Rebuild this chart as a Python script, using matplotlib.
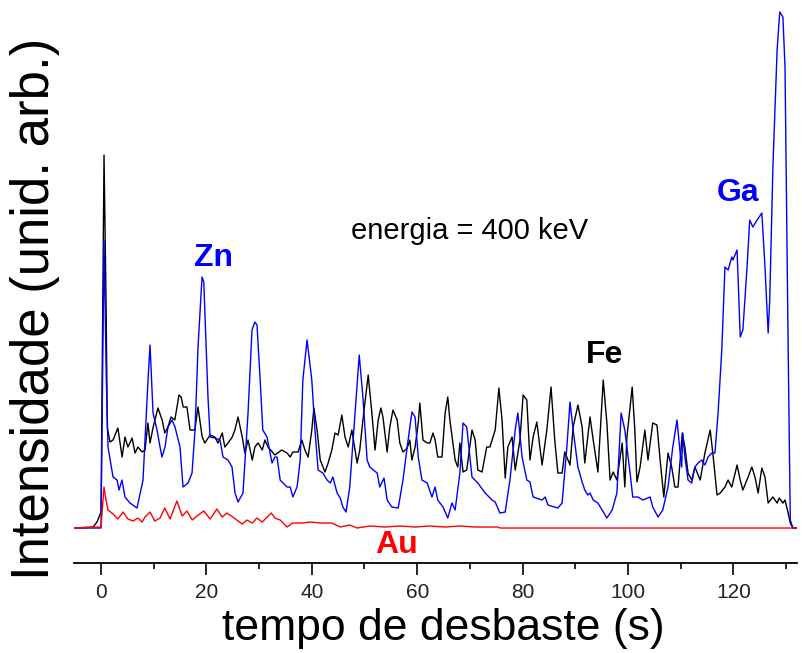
import matplotlib
matplotlib.use("Agg")
import matplotlib.pyplot as plt
from matplotlib.ticker import MultipleLocator
import numpy as np

plt.rcParams['font.family'] = ['Liberation Sans', 'DejaVu Sans']

# Ga/Zn signal (blue)
t_ga = [-5, 0, 0.2, 0.57, 1.0, 1.33, 2.28, 3.04, 3.42, 3.98, 4.55, 5.5, 6.83, 7.97, 8.92, 9.3,
        9.87, 10.63, 11.2, 11.57, 12.14, 12.71, 13.47, 14.04, 14.99, 15.56, 16.51, 17.27, 17.84,
        18.41, 19.17, 19.5, 20.3, 20.7, 21.63, 22.58, 23.15, 24.1, 24.86, 25.43, 26.0, 26.94,
        27.9, 28.65, 29.2, 29.6, 30.2, 30.7, 31.5, 32.45, 33.0, 33.4, 34.0, 35.3, 35.9, 36.4,
        37.2, 37.8, 38.3, 39.1, 40.0, 40.6, 41.2, 42.1, 42.9, 43.5, 44.0, 44.8, 45.4, 45.9,
        46.5, 47.2, 48.2, 49.0, 49.7, 50.5, 51.0, 52.4, 52.9, 53.7, 54.3, 55.2, 56.4, 57.3,
        58.1, 59.0, 59.6, 60.2, 60.9, 61.9, 62.8, 63.4, 63.9, 64.9, 65.8, 66.6, 67.2, 68.1,
        68.7, 69.4, 70.4, 71.5, 72.9, 74.2, 74.8, 75.7, 76.7, 77.6, 78.6, 79.1, 79.9, 80.8,
        81.4, 82.0, 83.7, 84.3, 84.8, 86.7, 87.5, 88.4, 89.0, 89.6, 90.5, 91.3, 91.8, 92.4,
        92.8, 93.4, 94.3, 95.1, 96.0, 97.0, 97.9, 98.7, 99.4, 100.4, 100.9, 101.9, 102.8,
        104.2, 104.7, 105.7, 106.6, 107.6, 108.5, 109.3, 109.9, 110.2, 110.4, 110.8, 111.4,
        112.1, 112.7, 113.3, 114.0, 114.6, 115.2, 115.9, 116.5, 117.1, 117.8, 118.4, 119.0,
        119.7, 119.9, 120.7, 121.3, 121.8, 122.6, 123.1, 123.7, 124.5, 125.4, 126.0, 126.6,
        126.9, 127.5, 128.3, 128.8, 129.4, 129.8, 130.4, 130.8, 131.3, 132.1]
i_ga = [0, 0, 100, 288, 150, 81, 51, 48, 38, 48, 31, 25, 20, 48, 148, 183,
        115, 98, 81, 71, 81, 101, 108, 101, 81, 41, 45, 55, 98,
        181, 251, 246, 131, 91, 90, 88, 71, 68, 61, 35, 26, 35,
        115, 198, 206, 203, 148, 98, 91, 65, 71, 71, 48, 41, 41, 31,
        41, 68, 148, 188, 148, 98, 58, 55, 48, 45, 51, 35, 30, 21,
        16, 41, 115, 173, 131, 68, 61, 55, 41, 50, 28, 21, 20, 48,
        81, 116, 111, 71, 48, 45, 31, 41, 28, 21, 10, 25, 18, 55,
        105, 101, 51, 45, 35, 28, 26, 15, 16, 48, 98, 115, 71, 48,
        46, 31, 28, 31, 23, 20, 25, 81, 126, 98, 61, 46, 38, 33,
        35, 28, 25, 18, 10, 18, 35, 115, 98, 55, 31, 31, 28,
        31, 21, 11, 18, 41, 81, 108, 75, 61, 95, 71, 48,
        45, 61, 65, 68, 63, 71, 75, 75, 115, 178, 261, 258,
        271, 268, 278, 191, 198, 261, 308, 301, 308, 315, 261, 195,
        228, 361, 478, 516, 511, 461, 178, 8, 0, 0]

# Fe signal (black)
t_fe = [-5, -1.5, -0.76, 0, 0.57, 0.95, 1.2, 1.71, 2.28, 3.2, 4.0, 4.55, 5.1, 5.9, 6.45, 7.0,
        7.8, 8.35, 8.9, 9.3, 9.9, 10.8, 11.6, 12.1, 12.7, 13.3, 14.0, 14.8, 15.2, 15.6, 16.3,
        16.9, 17.8, 18.4, 19.2, 19.7, 20.7, 21.6, 22.2, 23.0, 23.5, 24.1, 24.9, 25.4, 26.0,
        26.8, 27.3, 27.9, 28.7, 29.2, 29.8, 30.6, 31.1, 31.7, 33.0, 34.3, 35.3, 35.9, 36.4,
        37.4, 38.1, 38.7, 39.3, 40.0, 40.4, 41.0, 41.6, 42.5, 43.1, 43.8, 44.4, 45.0, 45.7,
        46.3, 46.9, 47.6, 48.2, 48.6, 49.1, 49.7, 50.7, 51.4, 52.0, 52.6, 53.1, 53.5, 54.3,
        54.8, 55.4, 56.2, 56.7, 57.3, 58.1, 58.6, 59.0, 59.6, 60.2, 60.5, 61.1, 61.9, 62.4,
        63.0, 63.4, 63.9, 64.7, 65.3, 65.8, 66.2, 67.2, 67.7, 68.1, 68.7, 69.4, 70.4, 71.0,
        71.5, 72.3, 73.2, 73.8, 74.8, 75.5, 76.1, 76.7, 77.2, 78.0, 78.6, 79.5, 80.1, 80.8,
        81.4, 82.0, 82.7, 83.7, 84.6, 85.4, 86.1, 86.7, 87.5, 88.0, 89.0, 89.6, 90.5, 91.3,
        91.8, 92.8, 93.4, 94.3, 95.3, 96.0, 96.6, 97.2, 97.9, 98.9, 99.4, 99.8, 100.8, 101.3,
        101.7, 102.3, 103.2, 103.8, 104.7, 105.5, 106.1, 106.8, 107.6, 108.3, 108.9, 109.5,
        110.3, 110.8, 111.4, 112.1, 112.7, 113.7, 114.6, 115.6, 116.1, 116.9, 117.5, 118.4,
        119.0, 119.7, 120.7, 121.3, 121.8, 122.8, 123.5, 124.1, 124.7, 125.4, 126.0, 126.6,
        127.5, 128.3, 128.7, 129.4, 129.8, 130.4, 130.8, 131.3, 132.1]
i_fe = [0, 1, 6, 16, 373, 228, 100, 86, 88, 100, 71, 91, 81, 90, 75, 81,
        76, 78, 105, 85, 101, 120, 108, 95, 101, 111, 108, 133, 131, 121, 121,
        98, 98, 121, 91, 85, 93, 91, 85, 95, 81, 85, 91, 98, 111,
        91, 75, 88, 68, 81, 85, 78, 88, 81, 73, 78, 75, 71, 76,
        76, 88, 78, 71, 98, 120, 98, 68, 56, 65, 78, 95, 93, 113,
        91, 81, 98, 78, 65, 78, 108, 153, 115, 78, 108, 120, 111, 76,
        101, 118, 108, 85, 76, 80, 88, 68, 81, 105, 125, 88, 85, 85,
        95, 88, 71, 71, 115, 131, 108, 68, 61, 85, 56, 58, 98, 88,
        58, 56, 81, 81, 98, 140, 108, 50, 81, 91, 58, 88, 133, 128,
        68, 91, 106, 63, 98, 141, 88, 55, 55, 76, 63, 101, 123, 101,
        65, 111, 88, 56, 148, 105, 48, 56, 48, 85, 41, 91, 141, 98,
        46, 61, 98, 68, 105, 103, 68, 31, 75, 61, 41, 41,
        95, 81, 55, 48, 61, 48, 75, 98, 75, 33, 35, 41,
        48, 41, 63, 48, 38, 51, 61, 51, 35, 60, 51, 25,
        31, 25, 30, 25, 28, 15, 5, 0, 0]

# Au signal (red)
t_au = [-5, 0, 0.57, 0.95, 1.33, 2.3, 3.2, 4.2, 5.1, 6.1, 7.0, 7.8, 8.35, 9.3, 10.2, 11.2,
        12.1, 13.1, 14.4, 15.4, 16.3, 17.3, 18.2, 19.5, 20.7, 22.0, 23.0, 23.9, 25.0, 26.8,
        27.7, 28.7, 29.6, 30.6, 32.3, 33.0, 34.0, 35.3, 36.4, 38.3, 39.7, 41.6, 42.9, 43.8,
        45.4, 47.2, 48.6, 51.0, 53.9, 56.7, 59.6, 62.4, 65.3, 68.1, 71.0, 75.3, 75.7, 132.1]
i_au = [0, 1, 41, 28, 18, 14, 9, 16, 9, 7, 10, 6, 11, 16, 7, 10,
        20, 9, 27, 12, 17, 8, 12, 17, 9, 19, 11, 15, 11, 4,
        8, 5, 10, 6, 15, 10, 8, 1, 5, 5, 6, 5, 5, 5,
        1, 3, 0, 2, 1, 2, 1, 2, 1, 2, 1, 1, 0, 0]

x_ticks = [0, 20, 40, 60, 80, 100, 120]

fig = plt.figure(figsize=(8.03, 6.53), dpi=100)
ax = fig.add_axes([0.0922, 0.1378, 0.9003, 0.8545])

ax.plot(t_fe, i_fe, color='black', lw=1.0)
ax.plot(t_ga, i_ga, color='#0000ff', lw=1.0)
ax.plot(t_au, i_au, color='#ff0000', lw=1.0)

ax.set_xlim(-5.12, 132.07)
ax.set_ylim(-35, 523)

for side in ('top', 'right', 'left'):
    ax.spines[side].set_visible(False)
ax.spines['bottom'].set_linewidth(1.3)
ax.set_yticks([])
ax.set_xticks(x_ticks)
ax.xaxis.set_minor_locator(MultipleLocator(10))
ax.tick_params(axis='x', which='major', direction='out', length=8.5, width=1.2,
               labelsize=15, pad=6, colors='black')
ax.tick_params(axis='x', which='minor', direction='out', length=4, width=1.2)
for lbl in ax.get_xticklabels():
    lbl.set_color('#222222')

ax.set_xlabel('tempo de desbaste (s)', fontsize=32)
ax.xaxis.set_label_coords(0.511, -0.08)
ax.set_ylabel('Intensidade (unid. arb.)', fontsize=38)
ax.yaxis.set_label_coords(-0.02, 0.455)

ax.text(21.3, 270, 'Zn', color='#0000ff', fontsize=23, fontweight='bold',
        ha='center', va='center')
ax.text(120.9, 335, 'Ga', color='#0000ff', fontsize=23, fontweight='bold',
        ha='center', va='center')
ax.text(95.6, 173, 'Fe', color='black', fontsize=23, fontweight='bold',
        ha='center', va='center')
ax.text(56, -17, 'Au', color='#ff0000', fontsize=23, fontweight='bold',
        ha='center', va='center')
ax.text(70, 297, 'energia = 400 keV', color='black', fontsize=21,
        ha='center', va='center')

fig.savefig('out.png', dpi=100)
